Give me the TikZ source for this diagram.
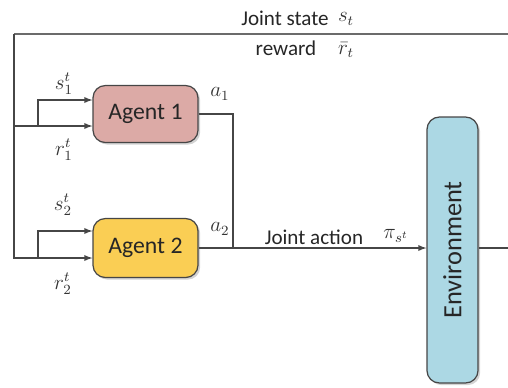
\documentclass[tikz,border=0pt]{standalone}
\usepackage{fontspec}
\setmainfont{Carlito}
\usetikzlibrary{shadows}
\definecolor{rosa}{RGB}{220,170,166}
\definecolor{oro}{RGB}{250,206,84}
\definecolor{celeste}{RGB}{172,216,228}
\definecolor{linea}{RGB}{70,70,70}
\tikzset{
    caja/.style={draw=linea, line width=0.7pt, rounded corners=7pt,
        drop shadow={shadow xshift=1.2pt, shadow yshift=-1.2pt, opacity=0.35},
        font=\fontsize{13.5}{16}\selectfont, text=black!85},
    flecha/.style={draw=linea, line width=0.6pt, -latex},
    conector/.style={draw=linea, line width=0.6pt},
    etiq/.style={font=\fontsize{12}{14}\selectfont, text=black!85},
    simb/.style={font=\fontsize{11.5}{13}\selectfont, text=black!80, inner sep=1pt}
}

\begin{document}
\begin{tikzpicture}[x=0.02cm, y=-0.02cm] % un pixel de la referencia
    \useasboundingbox (0,0) rectangle (508,387);
    % Agentes y entorno
    \node[caja, fill=rosa, minimum width=2.1cm, minimum height=1.14cm] (ag1) at (145.5,114) {Agent 1};
    \node[caja, fill=oro, minimum width=2.1cm, minimum height=1.18cm] (ag2) at (145.5,248) {Agent 2};
    \node[caja, fill=celeste, rotate=90, minimum width=5.32cm, minimum height=1.02cm,
        font=\fontsize{15}{18}\selectfont] (env) at (452.5,250) {Environment};
    % Puntos libres
    \coordinate (izq) at (14,34);
    \coordinate (der) at (508,34);
    \coordinate (sal) at (508,248);
    \coordinate (rama1) at (38,126);
    \coordinate (rama2) at (38,258);
    \coordinate (union) at (233,248);
    % Realimentacion: estado conjunto y recompensa
    \draw[conector, line width=1.1pt, draw=linea!80] (der) -- (izq);
    \draw[flecha] (izq) -- (14,258) -- (ag2.west |- 0,258);
    \draw[flecha] (14,126) -- (ag1.west |- 0,126);
    \draw[flecha] (rama1) |- (ag1.west |- 0,100);
    \draw[flecha] (rama2) |- (ag2.west |- 0,231);
    % Acciones
    \draw[conector] (ag1.east) -| (union);
    \draw[flecha] (ag2.east) -- (env.north |- ag2.east);
    \draw[conector] (env.south |- sal) -- (sal);
    % Etiquetas
    \node[etiq] (jstate) at (285,18) {Joint state};
    \node[simb] (st) at (346,19) {$s_t$};
    \node[etiq] (rew) at (286,48) {reward};
    \node[simb] (rt) at (346,50) {$\bar{r}_t$};
    \node[simb] (s1) at (64,84) {$s_1^t$};
    \node[simb] (r1) at (64,150) {$r_1^t$};
    \node[simb] (s2) at (63,205) {$s_2^t$};
    \node[simb] (r2) at (63,284) {$r_2^t$};
    \node[simb] (a1) at (220,94) {$a_1$};
    \node[simb] (a2) at (220,229) {$a_2$};
    \node[etiq] (jact) at (314,237) {Joint action};
    \node[simb] (pi) at (396,236) {$\pi_{s^t}$};
\end{tikzpicture}
\end{document}
